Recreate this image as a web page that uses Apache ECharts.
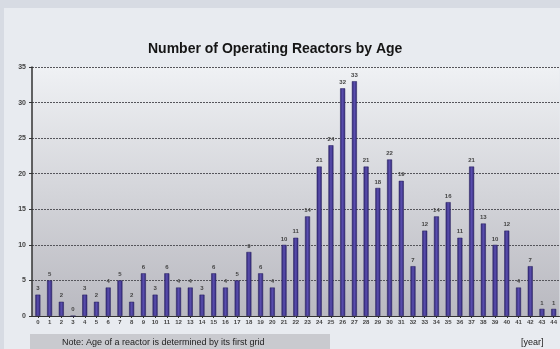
<!DOCTYPE html>
<html>
<head>
<meta charset="utf-8">
<script src="https://cdn.jsdelivr.net/npm/echarts@6/dist/echarts.min.js"></script>
<style>
  html, body { margin: 0; padding: 0; background: #d7dbe3; }
  #main { width: 560px; height: 349px; }
</style>
</head>
<body>
<div id="main"></div>
<script>
// reactor age (years) and count of operating reactors
var ages = [];
for (var a = 0; a <= 44; a++) ages.push(String(a));
var reactors = [3, 5, 2, 0, 3, 2, 4, 5, 2, 6, 3, 6, 4, 4, 3, 6, 4, 5, 9, 6, 4,
                10, 11, 14, 21, 24, 32, 33, 21, 18, 22, 19, 7, 12, 14, 16, 11, 21,
                13, 10, 12, 4, 7, 1, 1];
var yTicks = [0, 5, 10, 15, 20, 25, 30, 35];

var myChart = echarts.init(document.getElementById('main'));

var option = {
  backgroundColor: 'transparent',
  textStyle: { fontFamily: 'Liberation Sans, Arial, sans-serif' },
  title: {
    text: 'Number of Operating Reactors by Age',
    left: 143,
    top: 37,
    textStyle: { fontSize: 14, fontWeight: 'bold', color: '#151515' }
  },
  graphic: [
    { type: 'rect', z: -10, shape: { x: 4, y: 8, width: 560, height: 345 },
      style: { fill: '#e8ebf0' } },
    { type: 'rect', z: -5, shape: { x: 30, y: 334, width: 300, height: 20 },
      style: { fill: '#c9cacf' } },
    { type: 'text', left: 62, top: 338,
      style: { text: 'Note: Age of a reactor is determined by its first grid',
               fontSize: 9, fill: '#222', fontFamily: 'Liberation Sans, Arial' } },
    { type: 'text', left: 521, top: 338,
      style: { text: '[year]', fontSize: 9, fill: '#222', fontFamily: 'Liberation Sans, Arial' } }
  ],
  grid: {
    left: 32, right: -1, top: 67, bottom: 33,
    show: true, borderWidth: 0,
    backgroundColor: {
      type: 'linear', x: 0, y: 0, x2: 0, y2: 1,
      colorStops: [{ offset: 0, color: '#eff1f4' }, { offset: 1, color: '#b9b9c0' }]
    }
  },
  xAxis: {
    type: 'category',
    data: ages,
    axisLine: { lineStyle: { color: '#333', width: 1 } },
    axisTick: { show: true, alignWithLabel: true, length: 2, lineStyle: { color: '#333' } },
    axisLabel: { interval: 0, fontSize: 6, fontWeight: 'bold', color: '#444', margin: 3 }
  },
  yAxis: {
    type: 'value',
    min: 0, max: 35, interval: 5,
    axisLine: { show: true, lineStyle: { color: '#333', width: 1.5 } },
    axisTick: { show: true, length: 3, lineStyle: { color: '#333' } },
    axisLabel: { fontSize: 7, fontWeight: 'bold', color: '#444', margin: 6 },
    splitLine: { lineStyle: { color: '#55555b', width: 1.2, type: [2, 1] } }
  },
  series: [{
    name: 'Reactors',
    type: 'bar',
    data: reactors,
    barWidth: 5,
    itemStyle: {
      color: {
        type: 'linear', x: 0, y: 0, x2: 1, y2: 0,
        colorStops: [
          { offset: 0, color: '#2e2570' },
          { offset: 0.5, color: '#5b4fb0' },
          { offset: 1, color: '#2e2570' }
        ]
      },
      borderColor: '#241d5c',
      borderWidth: 0.5
    },
    label: {
      show: true, position: 'top', distance: 3,
      fontSize: 6, fontWeight: 'bold', color: '#444'
    }
  }]
};

myChart.setOption(option);
</script>
</body>
</html>
